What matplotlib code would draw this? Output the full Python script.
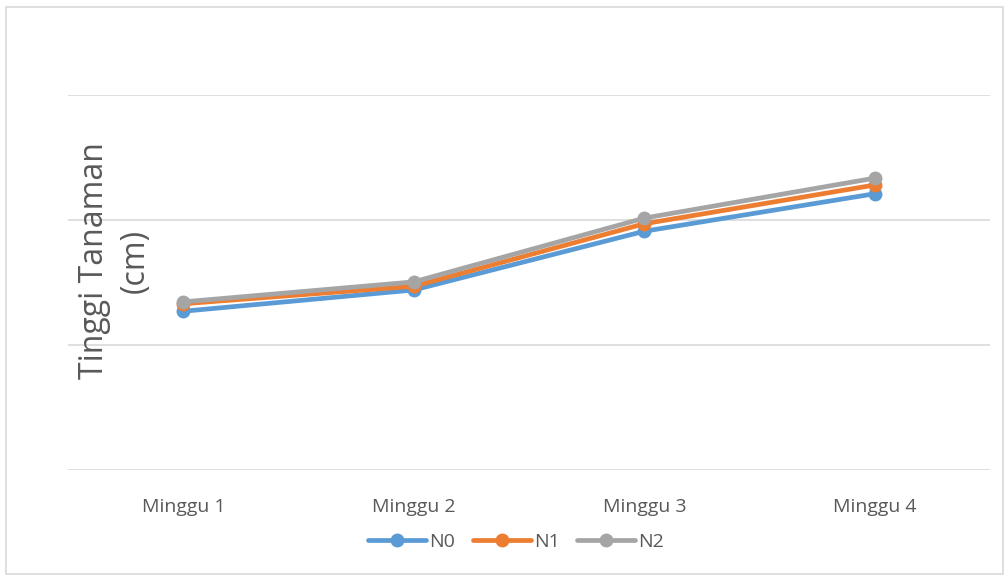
import matplotlib
matplotlib.use("Agg")
import matplotlib.pyplot as plt
from matplotlib.patches import Rectangle

# data (y axis has no labels, units estimated)
weeks = ["Minggu 1", "Minggu 2", "Minggu 3", "Minggu 4"]
n0 = [25.4, 28.8, 38.2, 44.2]
n1 = [26.6, 29.4, 39.4, 45.6]
n2 = [26.9, 30.1, 40.3, 46.7]
series_names = ["N0", "N1", "N2"]
colors = ["#5b9bd5", "#ed7d31", "#a5a5a5"]

plt.rcParams["font.family"] = ["Open Sans", "DejaVu Sans"]

fig = plt.figure(figsize=(10.06, 5.75), dpi=100)
ax = fig.add_axes([0.0676, 0.1826, 0.9165, 0.6522])

x = range(len(weeks))
for vals, name, c in zip([n0, n1, n2], series_names, colors):
    ax.plot(x, vals, color=c, lw=3.4, marker="o", markersize=9,
            label=name, solid_capstyle="round")

ax.set_xlim(-0.5, len(weeks) - 0.5)
ax.set_ylim(0, 60)
ax.set_yticks([0, 20, 40, 60])
ax.set_yticklabels([])
ax.tick_params(axis="y", length=0)
ax.tick_params(axis="x", length=0, pad=20, labelsize=14, labelcolor="#595959")
ax.set_xticks(list(x))
ax.set_xticklabels(weeks)
ax.grid(axis="y", color="#d9d9d9", lw=1.2)
ax.set_axisbelow(True)
for s in ax.spines.values():
    s.set_visible(False)

fig.text(0.114, 0.546, "Tinggi Tanaman\n(cm)", rotation=90, ha="center",
         va="center", multialignment="center", fontsize=23, color="#595959",
         linespacing=1.3)

leg = fig.legend(loc="center", bbox_to_anchor=(0.513, 0.058), ncol=3,
                 frameon=False, fontsize=14, handlelength=3.0,
                 columnspacing=0.9, handletextpad=0.15)
for t in leg.get_texts():
    t.set_color("#595959")

# thin outer border like the chart area frame
fig.patches.append(Rectangle((6 / 1006, 0.002), 997 / 1006, 1 - 7 / 575 - 0.002,
                             transform=fig.transFigure, fill=False,
                             edgecolor="#d9d9d9", lw=1.2))

fig.savefig("out.png", dpi=100)
